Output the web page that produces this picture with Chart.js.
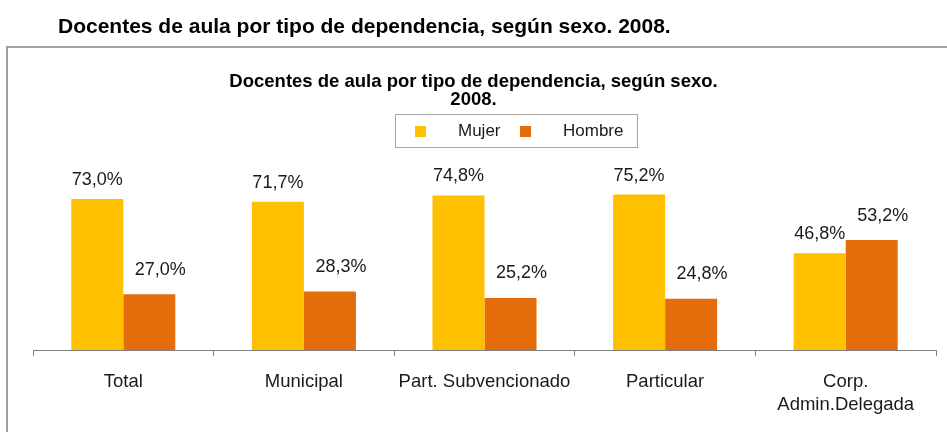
<!DOCTYPE html>
<html>
<head>
<meta charset="utf-8">
<script src="https://cdn.jsdelivr.net/npm/chart.js@4.4.1/dist/chart.umd.min.js"></script>
<style>
  html, body { margin: 0; padding: 0; background: #ffffff; }
  #wrap { position: relative; width: 947px; height: 432px; }
  canvas { display: block; }
</style>
</head>
<body>
<div id="wrap"><canvas id="c" width="947" height="432"></canvas></div>
<script>
// ---- data ----
const pageTitle = 'Docentes de aula por tipo de dependencia, según sexo. 2008.';
const chartTitle = ['Docentes de aula por tipo de dependencia, según sexo.', '2008.'];
const categories = ['Total', 'Municipal', 'Part. Subvencionado', 'Particular', ['Corp.', 'Admin.Delegada']];
const seriesNames = ['Mujer', 'Hombre'];
const mujer = [73.0, 71.7, 74.8, 75.2, 46.8];
const hombre = [27.0, 28.3, 25.2, 24.8, 53.2];

// ---- styles ----
const colors = ['#FFC000', '#E46C0A'];
const labelFont = 'Liberation Sans, Arial, sans-serif';

function marker(color) {
  const c = document.createElement('canvas');
  c.width = 24; c.height = 11;
  const x = c.getContext('2d');
  x.fillStyle = color;
  x.fillRect(0, 0, 11, 11);
  return c;
}

const fmt = v => v.toFixed(1).replace('.', ',') + '%';

const layoutShift = {
  id: 'layoutShift',
  afterLayout(chart) {
    const t = chart.titleBlock;
    if (t) { t.left += 25; t.right += 25; }
    const s = chart.boxes.find(b => b !== t && b.options && b.options.text === chart.options.plugins.subtitle.text);
    if (s) { s.left -= 11; s.right -= 11; }
    const lg = chart.legend;
    if (lg && lg.lineWidths) {
      const pad = lg.options.labels.padding;
      const start = (lg.left + pad + lg.right - lg.lineWidths[0]) / 2;
      const dx = 404.5 - start;
      lg.left += dx; lg.right += dx;
    }
  },
  beforeDraw(chart) {
    const ctx = chart.ctx;
    ctx.save();
    ctx.strokeStyle = '#a0a0a0';
    ctx.lineWidth = 2;
    ctx.strokeRect(7, 47, 1100, 600);
    ctx.restore();
  },
  afterDraw(chart) {
    const lg = chart.legend;
    if (!lg || !lg.legendHitBoxes || !lg.legendHitBoxes.length) return;
    const hb = lg.legendHitBoxes;
    const first = hb[0], last = hb[hb.length - 1];
    const ctx = chart.ctx;
    ctx.save();
    ctx.strokeStyle = '#a6a6a6';
    ctx.lineWidth = 1;
    const l = Math.round(first.left - 9.5) + 0.5;
    const r = Math.round(last.left + last.width + 13.5) + 0.5;
    const tp = Math.round(first.top - 8.5) + 0.5;
    const bt = Math.round(first.top + first.height + 7.5) + 0.5;
    ctx.strokeRect(l, tp, r - l, bt - tp);
    ctx.restore();
  }
};

const valueLabels = {
  id: 'valueLabels',
  afterDatasetsDraw(chart) {
    const ctx = chart.ctx;
    const dy = [19, 24.5];
    const dx = [0, 11];
    ctx.save();
    ctx.font = '18px ' + labelFont;
    ctx.fillStyle = '#1a1a1a';
    ctx.textAlign = 'center';
    ctx.textBaseline = 'middle';
    chart.data.datasets.forEach((ds, di) => {
      const meta = chart.getDatasetMeta(di);
      meta.data.forEach((el, i) => {
        ctx.fillText(fmt(ds.data[i]), el.x + dx[di], el.y - dy[di]);
      });
    });
    ctx.restore();
  }
};

new Chart(document.getElementById('c'), {
  type: 'bar',
  data: {
    labels: categories,
    datasets: [
      { label: seriesNames[0], data: mujer, backgroundColor: colors[0], pointStyle: marker(colors[0]),
        barPercentage: 1, categoryPercentage: 0.576 },
      { label: seriesNames[1], data: hombre, backgroundColor: colors[1], pointStyle: marker(colors[1]),
        barPercentage: 1, categoryPercentage: 0.576 }
    ]
  },
  options: {
    responsive: false,
    animation: false,
    devicePixelRatio: 1,
    layout: { padding: { left: 33, right: 11, top: 0, bottom: 2 } },
    scales: {
      x: {
        grid: { display: true, drawOnChartArea: false, drawTicks: true, tickLength: 6, color: '#808080', offset: true },
        border: { display: true, color: '#808080', width: 1 },
        ticks: { color: '#1a1a1a', font: { family: labelFont, size: 18.5, lineHeight: '23px' }, padding: 14,
                 maxRotation: 0, minRotation: 0, autoSkip: false }
      },
      y: { display: false, min: 0, max: 97 }
    },
    plugins: {
      tooltip: { enabled: false },
      title: {
        display: true, text: pageTitle, align: 'start', color: '#000000',
        font: { family: labelFont, size: 21, weight: 'bold', lineHeight: 1.2 },
        padding: { top: 14.4, bottom: 8 }
      },
      subtitle: {
        display: true, text: chartTitle, align: 'center', color: '#000000',
        font: { family: labelFont, size: 18.5, weight: 'bold', lineHeight: '18px' },
        padding: { top: 25.4, bottom: 4.5 }
      },
      legend: {
        display: true, position: 'top', align: 'center',
        labels: { usePointStyle: true, pointStyleWidth: 45, padding: 9, color: '#1a1a1a',
                  font: { family: labelFont, size: 17 } }
      }
    }
  },
  plugins: [layoutShift, valueLabels]
});
</script>
</body>
</html>
